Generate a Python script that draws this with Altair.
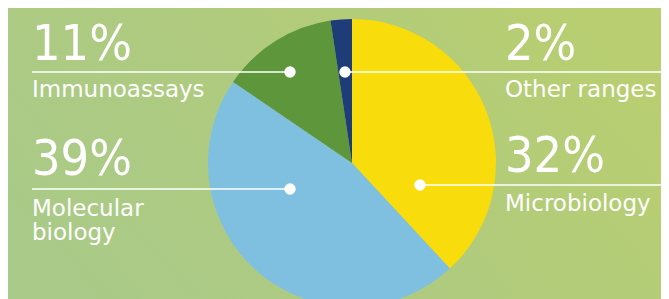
import altair as alt
import pandas as pd

# ---- data ----
categories = ["Microbiology", "Molecular biology", "Immunoassays", "Other ranges"]
values = [32, 39, 11, 2]
pct_labels = ["32%", "39%", "11%", "2%"]
name_labels = ["Microbiology", "Molecular\nbiology", "Immunoassays", "Other ranges"]
colors = ["#F9DC0B", "#7FC0E0", "#5E963B", "#1E3C78"]

# ---- layout (pixel positions of annotations, page coords) ----
OFF = 8
pct_x = [505, 32, 32, 505]
pct_y = [172, 175, 60, 60]
line_y = [185, 189, 72, 72]
line_x1 = [420, 32, 32, 345]
line_x2 = [669, 290, 290, 669]
dot_x = [420, 290, 290, 345]
label_y = [211, 216, 97, 97]

W, H = 653, 291
CX, CY, R = 352 - OFF, 163 - OFF, 144

pie_df = pd.DataFrame({"category": categories, "value": values, "order": list(range(len(values)))})
ann_df = pd.DataFrame({
    "category": categories,
    "pct": pct_labels,
    "name": name_labels,
    "px": [v - OFF for v in pct_x],
    "py": [v - OFF for v in pct_y],
    "ly": [v - OFF for v in line_y],
    "lx1": [v - OFF for v in line_x1],
    "lx2": [v - OFF for v in line_x2],
    "dx": [v - OFF for v in dot_x],
    "ny": [v - OFF for v in label_y],
})

grad = alt.LinearGradient(
    gradient="linear",
    stops=[alt.GradientStop(color="#A9CA88", offset=0),
           alt.GradientStop(color="#B0CB7E", offset=0.5),
           alt.GradientStop(color="#B8CE70", offset=1)],
    x1=0, x2=1, y1=0.7, y2=0.3,
)

bg = alt.Chart(pd.DataFrame({"a": [0]})).mark_rect(fill=grad, strokeWidth=0).encode(
    x=alt.value(0), x2=alt.value(W), y=alt.value(0), y2=alt.value(H)
)

pie = alt.Chart(pie_df).mark_arc(radius=R, stroke=None).encode(
    theta=alt.Theta("value:Q", stack=True),
    order=alt.Order("order:Q"),
    color=alt.Color("category:N", scale=alt.Scale(domain=categories, range=colors), legend=None),
    x=alt.value(CX), y=alt.value(CY),
)

ann = alt.Chart(ann_df)
lines = ann.mark_rule(color="white", strokeWidth=1.6).encode(
    x=alt.X("lx1:Q", scale=None), x2="lx2:Q", y=alt.Y("ly:Q", scale=None)
)
dots = ann.mark_point(filled=True, color="white", size=130, opacity=1, shape="circle").encode(
    x=alt.X("dx:Q", scale=None), y=alt.Y("ly:Q", scale=None)
)
pcts = ann.mark_text(
    color="white", font="Liberation Sans Narrow, DejaVu Sans Condensed, sans-serif",
    fontSize=50, align="left", baseline="alphabetic"
).encode(x=alt.X("px:Q", scale=None), y=alt.Y("py:Q", scale=None), text="pct:N")
names = ann.mark_text(
    color="white", font="DejaVu Sans", fontSize=23, align="left", baseline="alphabetic",
    lineBreak="\n", lineHeight=24
).encode(x=alt.X("px:Q", scale=None), y=alt.Y("ny:Q", scale=None), text="name:N")

chart = alt.layer(bg, pie, lines, dots, pcts, names).properties(
    width=W, height=H, padding=0, autosize="none", background="#B0CB7E"
).configure_view(stroke=None)

chart.save("out.html", embed_options={"renderer": "svg", "actions": False})
